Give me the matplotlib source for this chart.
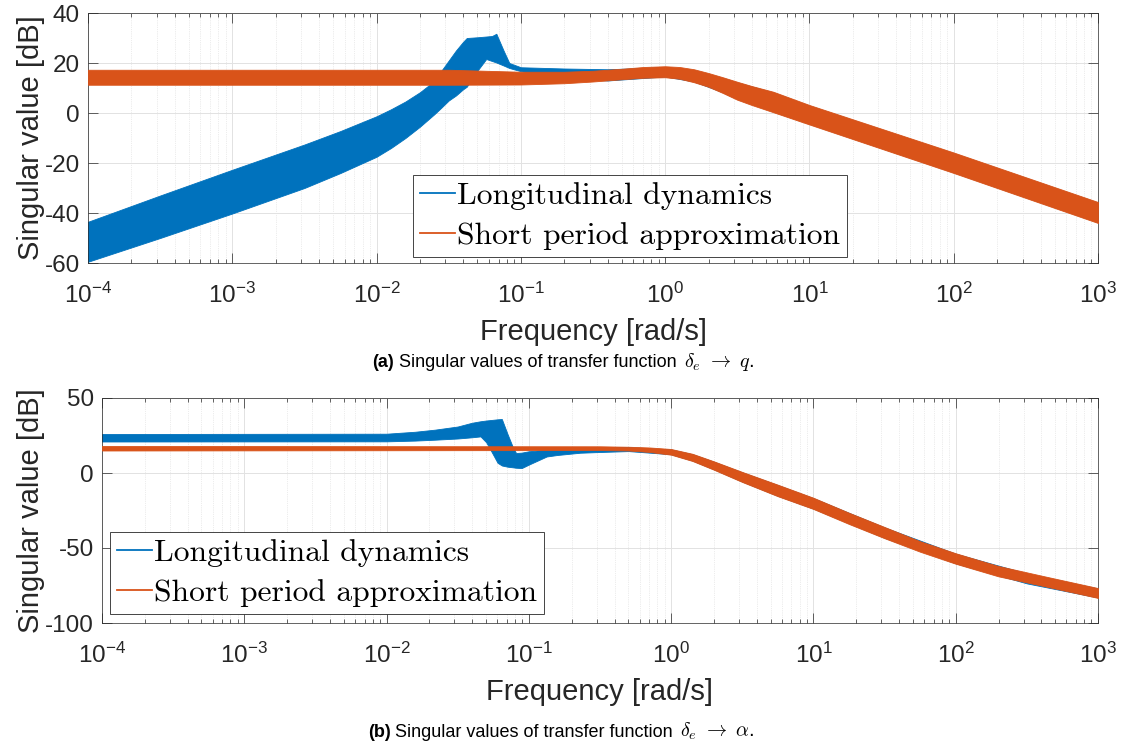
import numpy as np
import matplotlib
matplotlib.use('Agg')
import matplotlib.pyplot as plt
from matplotlib.lines import Line2D
from matplotlib.font_manager import FontProperties
from matplotlib.ticker import LogLocator, NullFormatter

plt.rcParams['font.family'] = ['Liberation Sans', 'DejaVu Sans']
plt.rcParams['mathtext.fontset'] = 'cm'
plt.rcParams['axes.unicode_minus'] = False

BLUE = '#0072BD'
ORANGE = '#D95319'
INK = '#262626'

# (a) delta_e -> q : log10(frequency) and band edges [dB]
q_long_logw = [-4.0, -3.5, -3.0, -2.5, -2.25, -2.0, -1.9, -1.8, -1.7, -1.6, -1.55,
               -1.5, -1.45, -1.4, -1.375, -1.3, -1.24, -1.2, -1.17, -1.12, -1.08,
               -1.0, -0.7, -0.4, -0.2, 0.0, 0.2, 0.4, 0.5, 0.75, 1.0, 2.0, 3.0]
q_long_hi = [-43.5, -33.0, -22.7, -12.6, -7.2, -1.3, 1.5, 4.6, 8.3, 12.8, 17.0,
             21.0, 25.0, 28.5, 30.0, 30.3, 30.6, 30.8, 31.7, 25.0, 20.0,
             18.3, 17.8, 17.5, 17.9, 18.4, 17.2, 14.0, 12.2, 8.2, 2.9, -16.1, -35.9]
q_long_lo = [-59.5, -50.0, -40.2, -30.0, -24.0, -17.5, -14.0, -10.0, -5.5, -0.5, 2.2,
             5.0, 7.0, 9.5, 10.5, 17.0, 21.6, 20.8, 20.2, 19.0, 18.0,
             16.7, 14.0, 13.0, 13.8, 14.6, 12.6, 8.3, 5.6, 0.6, -4.3, -23.7, -43.7]

q_short_logw = [-4.0, -1.5, -1.0, -0.7, -0.5, -0.3, -0.15, 0.0, 0.1, 0.2, 0.3, 0.4,
                0.5, 0.6, 0.75, 1.0, 1.5, 2.0, 2.5, 3.0]
q_short_hi = [17.3, 17.3, 16.5, 16.5, 16.9, 17.7, 18.4, 18.7, 18.4, 17.5, 16.0, 14.3,
              12.5, 10.8, 8.5, 3.2, -6.3, -15.8, -25.7, -35.6]
q_short_lo = [11.3, 11.3, 11.4, 11.9, 12.6, 13.5, 14.1, 14.3, 13.7, 12.3, 10.5, 8.0,
              5.3, 3.2, 0.3, -4.6, -14.3, -24.0, -34.0, -44.0]

# (b) delta_e -> alpha
a_long_logw = [-4.0, -2.0, -1.8, -1.66, -1.5, -1.4, -1.34, -1.3, -1.27, -1.22, -1.19,
               -1.15, -1.115, -1.09, -1.05, -1.0, -0.875, -0.8, -0.64, -0.5, -0.3,
               0.0, 0.15, 0.3, 0.5, 0.75, 1.0, 1.5, 2.0, 2.5, 3.0]
a_long_hi = [26.0, 26.2, 27.5, 28.9, 31.0, 33.5, 34.5, 35.0, 35.3, 35.8, 36.0,
             26.0, 17.8, 13.3, 13.6, 14.5, 15.6, 16.2, 17.1, 17.3, 17.3,
             15.7, 12.5, 7.5, 0.4, -8.1, -16.8, -36.3, -53.8, -67.0, -77.0]
a_long_lo = [21.0, 21.1, 21.6, 22.2, 23.0, 23.8, 24.4, 20.5, 15.5, 6.8, 5.0,
             4.2, 3.8, 3.5, 3.3, 5.6, 11.0, 12.0, 13.5, 14.0, 14.6,
             12.5, 8.3, 2.5, -5.7, -15.2, -23.7, -43.2, -60.2, -73.6, -83.0]

a_short_logw = [-4.0, -0.5, -0.3, -0.15, 0.0, 0.15, 0.3, 0.5, 0.75, 1.0, 1.25, 1.5,
                1.75, 2.0, 2.3, 2.63, 3.0]
a_short_hi = [18.0, 17.8, 17.5, 17.0, 16.0, 12.8, 7.8, 0.7, -7.8, -16.5, -26.5,
              -36.0, -45.5, -53.5, -62.0, -69.0, -76.7]
a_short_lo = [15.0, 15.3, 15.0, 14.0, 12.2, 8.0, 2.2, -6.0, -15.5, -24.0, -34.0,
              -43.5, -52.5, -60.5, -68.9, -75.6, -83.3]

W, H = 1126, 747


def rect(left, top, right, bottom):
    """pixel box -> figure fraction"""
    return [left / W, 1 - bottom / H, (right - left) / W, (bottom - top) / H]


def band(ax, logw, lo, hi, color, z):
    w = 10.0 ** np.asarray(logw)
    ax.fill_between(w, lo, hi, facecolor=color, edgecolor=color, lw=0.6, zorder=z)


def style(ax, ylim, yticks, ylab_x, xlab_y):
    ax.set_xscale('log')
    ax.set_xlim(1e-4, 1e3)
    ax.set_ylim(*ylim)
    ax.set_yticks(yticks)
    ax.set_xticks([10.0 ** k for k in range(-4, 4)])
    ax.xaxis.set_minor_locator(LogLocator(base=10, subs=np.arange(2, 10), numticks=20))
    ax.xaxis.set_minor_formatter(NullFormatter())
    ax.set_axisbelow(True)
    ax.grid(True, which='major', color='#e2e2e2', lw=0.7)
    ax.grid(True, which='minor', axis='x', color='#dadada', lw=0.5, ls=':')
    ax.tick_params(which='both', direction='in', top=True, right=True,
                   color=INK, width=0.5, labelcolor=INK, labelsize=17.5)
    ax.tick_params(which='major', length=7)
    ax.tick_params(which='minor', length=3)
    ax.tick_params(axis='x', which='major', pad=14)
    ax.tick_params(axis='y', which='major', pad=6)
    for s in ax.spines.values():
        s.set_color(INK)
        s.set_linewidth(0.5)
    ax.set_xlabel('Frequency [rad/s]', fontsize=21, color=INK, va='baseline')
    ax.xaxis.set_label_coords(0.5, xlab_y)
    ax.set_ylabel('Singular value [dB]', fontsize=21, color=INK)
    ax.yaxis.set_label_coords(ylab_x, 0.5)


def legend(ax, anchor):
    handles = [Line2D([], [], color=BLUE, lw=1.3), Line2D([], [], color=ORANGE, lw=1.3)]
    leg = ax.legend(handles, ['Longitudinal dynamics', 'Short period approximation'],
                    loc='lower left', bbox_to_anchor=anchor, borderaxespad=0,
                    prop=FontProperties(family='cmr10', size=22.7), fancybox=False,
                    framealpha=1, edgecolor=INK, borderpad=0.22, labelspacing=0.38,
                    handlelength=1.12, handletextpad=0.05)
    leg.get_frame().set_linewidth(0.6)


fig = plt.figure(figsize=(W / 100, H / 100), dpi=100)

ax1 = fig.add_axes(rect(88, 13, 1098, 263))
band(ax1, q_long_logw, q_long_lo, q_long_hi, BLUE, 2)
band(ax1, q_short_logw, q_short_lo, q_short_hi, ORANGE, 3)
style(ax1, (-60, 40), [-60, -40, -20, 0, 20, 40], -0.0426, (263 - 340) / 250)
legend(ax1, (0.322, 0.024))

ax2 = fig.add_axes(rect(102, 398, 1098, 623))
band(ax2, a_long_logw, a_long_lo, a_long_hi, BLUE, 2)
band(ax2, a_short_logw, a_short_lo, a_short_hi, ORANGE, 3)
style(ax2, (-100, 50), [-100, -50, 0, 50], -0.0572, (623 - 700) / 225)
legend(ax2, (0.008, 0.04))

# sub-figure captions: bold tag, sans text, then the map in math type
captions = [(372, 367, '(a)', r'$\delta_e\ \rightarrow\ q$.'),
            (368, 737, '(b)', r'$\delta_e\ \rightarrow\ \alpha$.')]
renderer = fig.canvas.get_renderer()
for x0, y0, tag, mapping in captions:
    y = 1 - y0 / H
    fig.text(x0 / W, y, tag, fontsize=13, weight='bold', color='black', va='baseline')
    body = fig.text((x0 + 27) / W, y, 'Singular values of transfer function',
                    fontsize=13, color='black', va='baseline')
    x_end = body.get_window_extent(renderer).x1
    fig.text((x_end + 7) / W, y, mapping, fontsize=14.5, color='black', va='baseline')

fig.savefig('out.png', dpi=100)
